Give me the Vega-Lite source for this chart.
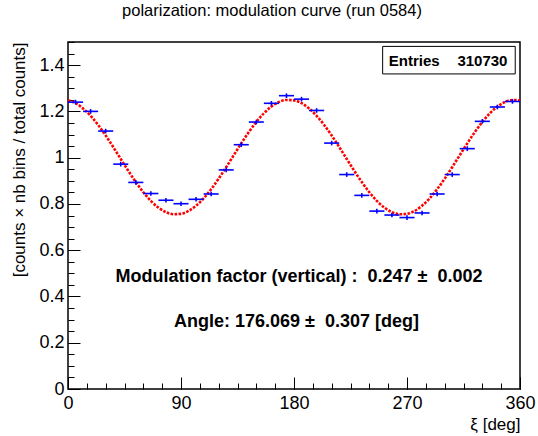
{
  "$schema": "https://vega.github.io/schema/vega-lite/v6.json",
  "width": 452,
  "height": 347,
  "autosize": {"type": "none"},
  "padding": {"left": 68, "top": 42, "right": 18, "bottom": 47},
  "background": "white",
  "title": {"text": "polarization: modulation curve (run 0584)", "font": "Liberation Sans", "fontSize": 16.5, "fontWeight": "normal", "color": "#000", "anchor": "middle", "offset": 22, "dx": -22},
  "config": {
    "view": {"stroke": "#000", "strokeWidth": 1.5},
    "axis": {"grid": false, "domain": false, "tickColor": "#000", "tickWidth": 1, "labelFont": "Liberation Sans", "labelFontSize": 18, "labelColor": "#000", "titleFont": "Liberation Sans", "titleFontSize": 17, "titleFontWeight": "normal", "titleColor": "#000"}
  },
  "datasets": {
    "bins": [
      {"xc": 6, "x0": 0, "x1": 12, "y": 1.240, "ylo": 1.230, "yhi": 1.250},
      {"xc": 18, "x0": 12, "x1": 24, "y": 1.200, "ylo": 1.190, "yhi": 1.210},
      {"xc": 30, "x0": 24, "x1": 36, "y": 1.115, "ylo": 1.105, "yhi": 1.125},
      {"xc": 42, "x0": 36, "x1": 48, "y": 0.972, "ylo": 0.962, "yhi": 0.982},
      {"xc": 54, "x0": 48, "x1": 60, "y": 0.893, "ylo": 0.883, "yhi": 0.903},
      {"xc": 66, "x0": 60, "x1": 72, "y": 0.845, "ylo": 0.835, "yhi": 0.855},
      {"xc": 78, "x0": 72, "x1": 84, "y": 0.816, "ylo": 0.806, "yhi": 0.826},
      {"xc": 90, "x0": 84, "x1": 96, "y": 0.801, "ylo": 0.791, "yhi": 0.811},
      {"xc": 102, "x0": 96, "x1": 108, "y": 0.820, "ylo": 0.810, "yhi": 0.830},
      {"xc": 114, "x0": 108, "x1": 120, "y": 0.843, "ylo": 0.833, "yhi": 0.853},
      {"xc": 126, "x0": 120, "x1": 132, "y": 0.947, "ylo": 0.937, "yhi": 0.957},
      {"xc": 138, "x0": 132, "x1": 144, "y": 1.056, "ylo": 1.046, "yhi": 1.066},
      {"xc": 150, "x0": 144, "x1": 156, "y": 1.154, "ylo": 1.144, "yhi": 1.164},
      {"xc": 162, "x0": 156, "x1": 168, "y": 1.235, "ylo": 1.225, "yhi": 1.245},
      {"xc": 174, "x0": 168, "x1": 180, "y": 1.268, "ylo": 1.258, "yhi": 1.278},
      {"xc": 186, "x0": 180, "x1": 192, "y": 1.253, "ylo": 1.243, "yhi": 1.263},
      {"xc": 198, "x0": 192, "x1": 204, "y": 1.204, "ylo": 1.194, "yhi": 1.214},
      {"xc": 210, "x0": 204, "x1": 216, "y": 1.063, "ylo": 1.053, "yhi": 1.073},
      {"xc": 222, "x0": 216, "x1": 228, "y": 0.927, "ylo": 0.917, "yhi": 0.937},
      {"xc": 234, "x0": 228, "x1": 240, "y": 0.837, "ylo": 0.827, "yhi": 0.847},
      {"xc": 246, "x0": 240, "x1": 252, "y": 0.769, "ylo": 0.759, "yhi": 0.779},
      {"xc": 258, "x0": 252, "x1": 264, "y": 0.752, "ylo": 0.742, "yhi": 0.762},
      {"xc": 270, "x0": 264, "x1": 276, "y": 0.741, "ylo": 0.731, "yhi": 0.751},
      {"xc": 282, "x0": 276, "x1": 288, "y": 0.761, "ylo": 0.751, "yhi": 0.771},
      {"xc": 294, "x0": 288, "x1": 300, "y": 0.843, "ylo": 0.833, "yhi": 0.853},
      {"xc": 306, "x0": 300, "x1": 312, "y": 0.927, "ylo": 0.917, "yhi": 0.937},
      {"xc": 318, "x0": 312, "x1": 324, "y": 1.039, "ylo": 1.029, "yhi": 1.049},
      {"xc": 330, "x0": 324, "x1": 336, "y": 1.157, "ylo": 1.147, "yhi": 1.167},
      {"xc": 342, "x0": 336, "x1": 348, "y": 1.219, "ylo": 1.209, "yhi": 1.229},
      {"xc": 354, "x0": 348, "x1": 360, "y": 1.243, "ylo": 1.233, "yhi": 1.253}
    ],
    "fit": [
      {"x": 0, "y": 1.2478}, {"x": 6, "y": 1.2354}, {"x": 12, "y": 1.2128}, {"x": 18, "y": 1.1811},
      {"x": 24, "y": 1.1415}, {"x": 30, "y": 1.0958}, {"x": 36, "y": 1.0461}, {"x": 42, "y": 0.9945},
      {"x": 48, "y": 0.9432}, {"x": 54, "y": 0.8945}, {"x": 60, "y": 0.8505}, {"x": 66, "y": 0.8131},
      {"x": 72, "y": 0.7841}, {"x": 78, "y": 0.7646}, {"x": 84, "y": 0.7555}, {"x": 90, "y": 0.7572},
      {"x": 96, "y": 0.7696}, {"x": 102, "y": 0.7922}, {"x": 108, "y": 0.8239}, {"x": 114, "y": 0.8635},
      {"x": 120, "y": 0.9092}, {"x": 126, "y": 0.9589}, {"x": 132, "y": 1.0105}, {"x": 138, "y": 1.0618},
      {"x": 144, "y": 1.1105}, {"x": 150, "y": 1.1545}, {"x": 156, "y": 1.1919}, {"x": 162, "y": 1.2209},
      {"x": 168, "y": 1.2404}, {"x": 174, "y": 1.2495},
      {"x": 180, "y": 1.2478}, {"x": 186, "y": 1.2354}, {"x": 192, "y": 1.2128}, {"x": 198, "y": 1.1811},
      {"x": 204, "y": 1.1415}, {"x": 210, "y": 1.0958}, {"x": 216, "y": 1.0461}, {"x": 222, "y": 0.9945},
      {"x": 228, "y": 0.9432}, {"x": 234, "y": 0.8945}, {"x": 240, "y": 0.8505}, {"x": 246, "y": 0.8131},
      {"x": 252, "y": 0.7841}, {"x": 258, "y": 0.7646}, {"x": 264, "y": 0.7555}, {"x": 270, "y": 0.7572},
      {"x": 276, "y": 0.7696}, {"x": 282, "y": 0.7922}, {"x": 288, "y": 0.8239}, {"x": 294, "y": 0.8635},
      {"x": 300, "y": 0.9092}, {"x": 306, "y": 0.9589}, {"x": 312, "y": 1.0105}, {"x": 318, "y": 1.0618},
      {"x": 324, "y": 1.1105}, {"x": 330, "y": 1.1545}, {"x": 336, "y": 1.1919}, {"x": 342, "y": 1.2209},
      {"x": 348, "y": 1.2404}, {"x": 354, "y": 1.2495}, {"x": 360, "y": 1.2478}
    ],
    "notes": [
      {"x": 184, "y": 0.483, "text": "Modulation factor (vertical) :\u00a0\u00a00.247 ±\u00a0\u00a00.002"},
      {"x": 182, "y": 0.289, "text": "Angle: 176.069 ±\u00a0\u00a00.307 [deg]"}
    ],
    "statbox": [{"x0": 250.6, "x1": 356.2, "y0": 1.362, "y1": 1.481}],
    "statlabel": [{"x": 255.5, "y": 1.42, "text": "Entries"}],
    "statvalue": [{"x": 350, "y": 1.42, "text": "310730"}],
    "ticks": [{"x": 0, "y": 0}]
  },
  "layer": [
    {
      "data": {"name": "ticks"},
      "mark": {"type": "point", "opacity": 0},
      "encoding": {
        "x": {"field": "x", "type": "quantitative", "scale": {"domain": [0, 360], "nice": false, "zero": false},
              "axis": {"orient": "bottom", "values": [0, 15, 30, 45, 60, 75, 90, 105, 120, 135, 150, 165, 180, 195, 210, 225, 240, 255, 270, 285, 300, 315, 330, 345, 360], "tickSize": -6, "labels": false, "title": null}},
        "y": {"field": "y", "type": "quantitative", "scale": {"domain": [0, 1.5], "nice": false, "zero": false},
              "axis": {"orient": "left", "values": [0, 0.05, 0.1, 0.15, 0.2, 0.25, 0.3, 0.35, 0.4, 0.45, 0.5, 0.55, 0.6, 0.65, 0.7, 0.75, 0.8, 0.85, 0.9, 0.95, 1, 1.05, 1.1, 1.15, 1.2, 1.25, 1.3, 1.35, 1.4, 1.45, 1.5], "tickSize": -6, "labels": false, "title": null}}
      }
    },
    {
      "data": {"name": "fit"},
      "mark": {"type": "line", "color": "#ff0000", "strokeWidth": 2.6, "strokeDash": [2.6, 1.4], "interpolate": "monotone"},
      "encoding": {
        "x": {"field": "x", "type": "quantitative", "axis": null},
        "y": {"field": "y", "type": "quantitative", "axis": null}
      }
    },
    {
      "data": {"name": "bins"},
      "mark": {"type": "rule", "color": "#0000ff", "strokeWidth": 1.6},
      "encoding": {
        "x": {"field": "x0", "type": "quantitative",
              "axis": {"orient": "bottom", "values": [0, 90, 180, 270, 360], "tickSize": -12, "labelPadding": 17, "labelFlush": false, "title": "ξ [deg]", "titleAnchor": "end", "titlePadding": 4}},
        "x2": {"field": "x1"},
        "y": {"field": "y", "type": "quantitative",
              "axis": {"orient": "left", "values": [0, 0.2, 0.4, 0.6, 0.8, 1, 1.2, 1.4], "format": "~g", "tickSize": -12, "labelPadding": 16, "title": "[counts × nb bins / total counts]", "titleAnchor": "end", "titlePadding": 10}}
      }
    },
    {
      "data": {"name": "bins"},
      "mark": {"type": "rule", "color": "#0000ff", "strokeWidth": 1.6},
      "encoding": {
        "x": {"field": "xc", "type": "quantitative", "axis": null},
        "y": {"field": "ylo", "type": "quantitative", "axis": null},
        "y2": {"field": "yhi"}
      }
    },
    {
      "data": {"name": "notes"},
      "mark": {"type": "text", "font": "Liberation Sans", "fontSize": 18, "fontWeight": "bold", "color": "#000", "align": "center", "baseline": "middle"},
      "encoding": {
        "x": {"field": "x", "type": "quantitative", "axis": null},
        "y": {"field": "y", "type": "quantitative", "axis": null},
        "text": {"field": "text"}
      }
    },
    {
      "data": {"name": "statbox"},
      "mark": {"type": "rect", "fill": "white", "stroke": "#000", "strokeWidth": 1},
      "encoding": {
        "x": {"field": "x0", "type": "quantitative", "axis": null},
        "x2": {"field": "x1"},
        "y": {"field": "y0", "type": "quantitative", "axis": null},
        "y2": {"field": "y1"}
      }
    },
    {
      "data": {"name": "statlabel"},
      "mark": {"type": "text", "font": "Liberation Sans", "fontSize": 15, "fontWeight": "bold", "color": "#000", "align": "left", "baseline": "middle"},
      "encoding": {
        "x": {"field": "x", "type": "quantitative", "axis": null},
        "y": {"field": "y", "type": "quantitative", "axis": null},
        "text": {"field": "text"}
      }
    },
    {
      "data": {"name": "statvalue"},
      "mark": {"type": "text", "font": "Liberation Sans", "fontSize": 15, "fontWeight": "bold", "color": "#000", "align": "right", "baseline": "middle"},
      "encoding": {
        "x": {"field": "x", "type": "quantitative", "axis": null},
        "y": {"field": "y", "type": "quantitative", "axis": null},
        "text": {"field": "text"}
      }
    }
  ],
  "resolve": {"axis": {"x": "independent", "y": "independent"}}
}
